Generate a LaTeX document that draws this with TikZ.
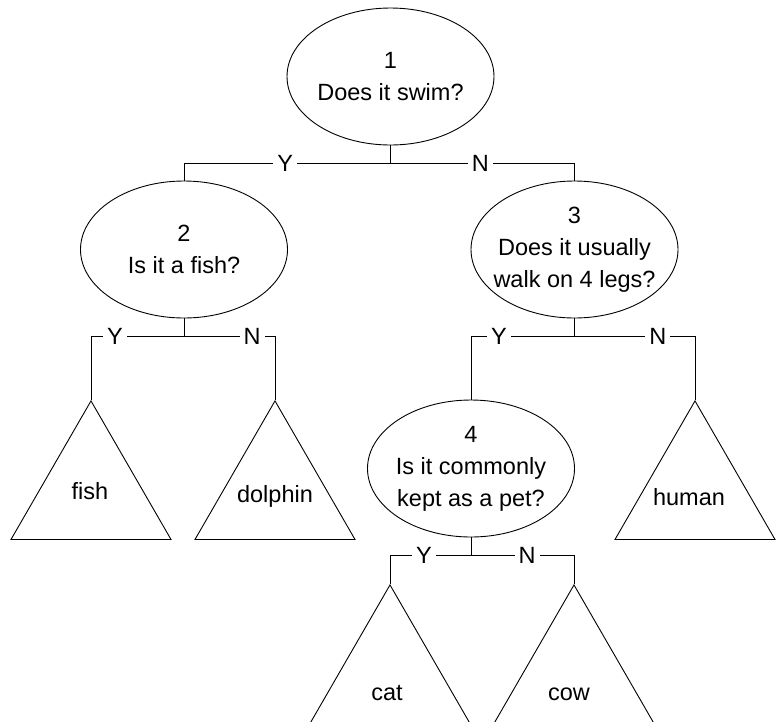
\documentclass[tikz,border=0pt]{standalone}
\usepackage{fontspec}
\setmainfont{Liberation Sans}
\usetikzlibrary{shapes.geometric}
\begin{document}
\begin{tikzpicture}[x=1pt,y=-1pt,line width=0.9pt,
  every node/.style={font=\fontsize{23.5}{32}\selectfont},
  ell/.style={draw,ellipse,minimum width=207pt,minimum height=137pt,inner sep=0pt},
  qtext/.style={align=center,inner sep=0pt},
  leaf/.style={draw,regular polygon,regular polygon sides=3,minimum size=184.8pt,inner sep=0pt},
  ltext/.style={inner sep=0pt,text height=17pt,text depth=5pt},
  lbl/.style={fill=white,inner xsep=4pt,inner ysep=1pt}]
\useasboundingbox (0,0) rectangle (779,721);
\clip (0,0) rectangle (779,721);
% question nodes
\node[ell] (e1) at (390.5,76.5) {};
\node[qtext] (t1) at (e1.center) {1\\Does it swim?};
\node[ell] (e2) at (184,249.5) {};
\node[qtext] (t2) at (e2.center) {2\\Is it a fish?};
\node[ell] (e3) at (574.5,249.5) {};
\node[qtext] (t3) at (e3.center) {3\\Does it usually\\walk on 4 legs?};
\node[ell] (e4) at (471,468.5) {};
\node[qtext] (t4) at (e4.center) {4\\Is it commonly\\kept as a pet?};
% leaves
\node[leaf,anchor=corner 1] (fish) at (91,400) {};
\node[ltext] (tfish) at ([xshift=-1pt]fish.center) {fish};
\node[leaf,anchor=corner 1] (dolphin) at (275,400) {};
\node[ltext] (tdolphin) at ([yshift=-3pt]dolphin.center) {dolphin};
\node[leaf,anchor=corner 1] (human) at (695,400) {};
\node[ltext] (thuman) at ([xshift=-6pt,yshift=-6pt]human.center) {human};
\node[leaf,anchor=corner 1] (cat) at (390,584) {};
\node[ltext] (tcat) at ([xshift=-3pt,yshift=-17pt]cat.center) {cat};
\node[leaf,anchor=corner 1] (cow) at (574,584) {};
\node[ltext] (tcow) at ([xshift=-5pt,yshift=-17pt]cow.center) {cow};
% junctions
\coordinate (j1) at (390.5,163);
\coordinate (j2) at (184,336);
\coordinate (j3) at (574.5,336);
\coordinate (j4) at (471,555);
% connectors
\draw (e1.south) -- (j1);
\draw (j1) -| node[lbl,pos=0.255]{Y} (e2.north);
\draw (j1) -| node[lbl,pos=0.244]{N} (e3.north);
\draw (e2.south) -- (j2);
\draw (j2) -| node[lbl,pos=0.371]{Y} (fish.corner 1);
\draw (j2) -| node[lbl,pos=0.374]{N} (dolphin.corner 1);
\draw (e3.south) -- (j3);
\draw (j3) -| node[lbl,pos=0.365]{Y} (e4.north);
\draw (j3) -| node[lbl,pos=0.346]{N} (human.corner 1);
\draw (e4.south) -- (j4);
\draw (j4) -| node[lbl,pos=0.29]{Y} (cat.corner 1);
\draw (j4) -| node[lbl,pos=0.272]{N} (cow.corner 1);
\end{tikzpicture}
\end{document}
